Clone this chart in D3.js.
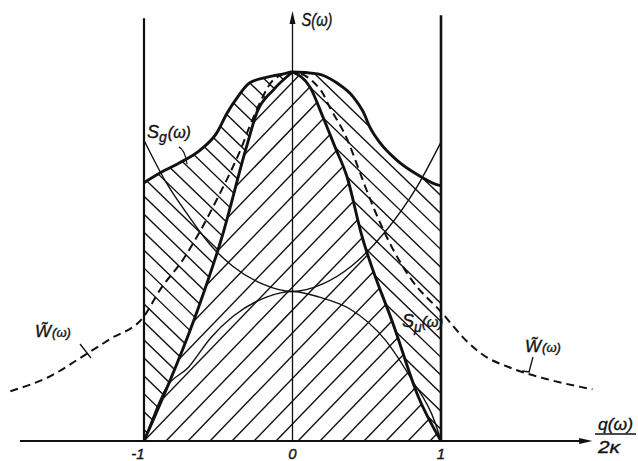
<!DOCTYPE html>
<html>
<head>
<meta charset="utf-8">
<script src="https://cdn.jsdelivr.net/npm/d3@7/dist/d3.min.js"></script>
<style>
  body { margin: 0; background: #fff; }
  svg { display: block; }
  text { font-family: 'Liberation Sans', 'DejaVu Sans', sans-serif; font-style: italic; fill: #111; stroke: #111; stroke-width: 0.35; }
</style>
</head>
<body>
<div id="chart"></div>
<script>
// x: q(w)/2k, y: S(w) normalised to the common peak = 1
const xTicks = [-1, 0, 1];
const xTickLabels = ['-1', '0', '1'];

// S_g(w), thick outer envelope
const sgX = [-1, -0.89, -0.76, -0.62, -0.51, -0.44, -0.37, -0.29, -0.17, -0.06, 0, 0.17, 0.30, 0.41, 0.48, 0.52, 0.59, 0.70, 0.84, 0.97, 1];
const sgY = [0.70, 0.727, 0.754, 0.789, 0.835, 0.889, 0.932, 0.970, 0.986, 0.995, 1, 0.995, 0.970, 0.932, 0.889, 0.851, 0.808, 0.762, 0.722, 0.695, 0.692];

// S_mu(w), thick inner curve with a cusp at the top
const smuX = [-1, -0.63, -0.48, -0.31, -0.24, -0.13, 0, 0.118, 0.205, 0.286, 0.367, 0.461, 0.69, 0.845, 1];
const smuY = [0, 0.365, 0.546, 0.797, 0.89, 0.951, 1, 0.959, 0.878, 0.797, 0.716, 0.565, 0.303, 0.122, 0];

// W~(w), dashed
const wX = [-1.9, -1.63, -1.41, -1.23, -1.0, -0.89, -0.74, -0.62, -0.49, -0.42, -0.35, -0.29, -0.22, -0.13, 0, 0.19, 0.25, 0.37, 0.43, 0.49, 0.62, 0.80, 1.0, 1.18, 1.26, 1.49, 1.71, 2.02];
const wY = [0.135, 0.176, 0.23, 0.276, 0.338, 0.411, 0.49, 0.57, 0.67, 0.727, 0.789, 0.851, 0.916, 0.978, 1, 0.951, 0.905, 0.816, 0.754, 0.689, 0.565, 0.438, 0.35, 0.268, 0.24, 0.195, 0.168, 0.14];

// thin U-shaped curve
const uX = [-1, -0.85, -0.7, -0.55, -0.4, -0.2, 0, 0.2, 0.4, 0.62, 0.84, 1];
const uY = [0.815, 0.70, 0.61, 0.53, 0.473, 0.425, 0.405, 0.425, 0.475, 0.565, 0.69, 0.81];

// thin cap-shaped curve
const capX = [-1, -0.85, -0.7, -0.55, -0.4, -0.175, 0, 0.18, 0.39, 0.62, 0.80, 0.96, 1];
const capY = [0, 0.145, 0.2, 0.28, 0.338, 0.39, 0.405, 0.39, 0.357, 0.276, 0.168, 0.05, 0];

const width = 638;
const height = 461;

const svg = d3.select('#chart')
  .append('svg')
  .attr('width', width)
  .attr('height', height)
  .attr('xmlns', 'http://www.w3.org/2000/svg');

const x = d3.scaleLinear().domain([-1, 1]).range([144, 441]);
const y = d3.scaleLinear().domain([0, 1]).range([441, 72]);

const pts = (xs, ys) => xs.map((v, i) => [v, ys[i]]);
const line = d3.line().x(d => x(d[0])).y(d => y(d[1])).curve(d3.curveMonotoneX);

const sg = pts(sgX, sgY);
const smu = pts(smuX, smuY);
const peak = smuY.indexOf(d3.max(smuY));
const smuLeft = smu.slice(0, peak + 1);
const smuRight = smu.slice(peak);
const smuPath = line(smuLeft) + line(smuRight).replace(/^M/, 'L');

const defs = svg.append('defs');
defs.append('clipPath').attr('id', 'clip-mu')
  .append('path')
  .attr('d', smuPath + 'Z');
defs.append('clipPath').attr('id', 'clip-g')
  .append('path')
  .attr('clip-rule', 'evenodd')
  .attr('d', line(sg) + `L${x(1)},${y(0)}L${x(-1)},${y(0)}Z` + smuPath + 'Z');

// hatching
const hatch = (id, step, angle, dir, x0) => {
  const g = svg.append('g').attr('clip-path', `url(#${id})`);
  const t = Math.tan(angle * Math.PI / 180);
  const h = y(0) - y(1.1);
  const offs = d3.range(-30, 30).map(k => x0 + k * step);
  g.selectAll('line')
    .data(offs)
    .join('line')
    .attr('x1', d => d)
    .attr('y1', y(0))
    .attr('x2', d => d + dir * h / t)
    .attr('y2', y(1.1))
    .attr('stroke', '#111')
    .attr('stroke-width', 1.4);
};
hatch('clip-mu', 22, 46, 1, x(-1));
hatch('clip-g', 18.6, 44, -1, 230);

const ink = '#111';

// thin curves
svg.append('path').attr('d', line(pts(uX, uY)))
  .attr('fill', 'none').attr('stroke', ink).attr('stroke-width', 1.4);
svg.append('path').attr('d', line(pts(capX, capY)))
  .attr('fill', 'none').attr('stroke', ink).attr('stroke-width', 1.4);

// walls at q/2k = +-1
svg.append('line').attr('x1', x(-1)).attr('x2', x(-1)).attr('y1', y(0)).attr('y2', y(1.146))
  .attr('stroke', ink).attr('stroke-width', 2.2);
svg.append('line').attr('x1', x(1)).attr('x2', x(1)).attr('y1', y(0)).attr('y2', y(1.154))
  .attr('stroke', ink).attr('stroke-width', 2.6);

// axes
svg.append('line').attr('x1', x(-1.835)).attr('x2', x(1.96)).attr('y1', y(0)).attr('y2', y(0))
  .attr('stroke', ink).attr('stroke-width', 2);
svg.append('path')
  .attr('d', `M${x(2.02)},${y(0)}L${x(1.93)},${y(0) - 3}L${x(1.93)},${y(0) + 3}Z`)
  .attr('fill', ink);
svg.append('line').attr('x1', x(0)).attr('x2', x(0)).attr('y1', y(0)).attr('y2', y(1.13))
  .attr('stroke', ink).attr('stroke-width', 1.3);
svg.append('path')
  .attr('d', `M${x(0)},${y(1.165)}L${x(0) - 3},${y(1.13)}L${x(0) + 3},${y(1.13)}Z`)
  .attr('fill', ink);

// dashed W~
svg.append('path').attr('d', line(pts(wX, wY)))
  .attr('fill', 'none').attr('stroke', ink).attr('stroke-width', 2)
  .attr('stroke-dasharray', '8,5');

// thick curves
svg.append('path').attr('d', line(sg))
  .attr('fill', 'none').attr('stroke', ink).attr('stroke-width', 2.9);
svg.append('path').attr('d', smuPath)
  .attr('fill', 'none').attr('stroke', ink).attr('stroke-width', 2.9)
  .attr('stroke-linejoin', 'miter');

// tick labels
svg.selectAll('.tick-label')
  .data(xTicks)
  .join('text')
  .attr('class', 'tick-label')
  .attr('x', d => x(d) - (d < 0 ? 6 : 0))
  .attr('y', 459)
  .attr('text-anchor', 'middle')
  .attr('font-size', 15)
  .text((d, i) => xTickLabels[i]);

// axis titles
const yTitle = svg.append('text').attr('x', x(0) + 9).attr('y', 26).attr('font-size', 18)
  .attr('textLength', 31).attr('lengthAdjust', 'spacingAndGlyphs');
yTitle.append('tspan').text('S(ω)');

svg.append('text').attr('x', 598).attr('y', 430).attr('font-size', 17)
  .attr('textLength', 35).attr('lengthAdjust', 'spacingAndGlyphs').text('q(ω)');
svg.append('line').attr('x1', 595).attr('x2', 636).attr('y1', 434).attr('y2', 434)
  .attr('stroke', ink).attr('stroke-width', 1.4);
svg.append('text').attr('x', 598).attr('y', 453).attr('font-size', 17)
  .attr('textLength', 22).attr('lengthAdjust', 'spacingAndGlyphs').text('2κ');

// curve labels
const sgLabel = svg.append('text').attr('x', 147).attr('y', 138).attr('font-size', 18);
sgLabel.append('tspan').text('S');
sgLabel.append('tspan').attr('font-size', 14).attr('dy', 4).text('g');
sgLabel.append('tspan').attr('font-size', 16).attr('dy', -4).attr('dx', 1).text('(ω)');
svg.append('path')
  .attr('d', `M${x(-0.765)},${y(0.797)}Q${x(-0.725)},${y(0.79)} ${x(-0.71)},${y(0.75)}`)
  .attr('fill', 'none').attr('stroke', ink).attr('stroke-width', 1.2);

const smuLabel = svg.append('text').attr('x', 402).attr('y', 327).attr('font-size', 18)
  .attr('stroke', '#fff').attr('stroke-width', 4).attr('paint-order', 'stroke');
smuLabel.append('tspan').text('S');
smuLabel.append('tspan').attr('font-size', 14).attr('dy', 5).text('μ');
smuLabel.append('tspan').attr('font-size', 15).attr('dy', -5).text('(ω)');

const wLabels = [{ lx: 35, ly: 337 }, { lx: 525, ly: 352 }];
wLabels.forEach(d => {
  const t = svg.append('text').attr('x', d.lx).attr('y', d.ly).attr('font-size', 17);
  t.append('tspan').text('W\u0303');
  t.append('tspan').attr('font-size', 13).attr('dx', 1).text('(ω)');
});
svg.append('line').attr('x1', 80).attr('y1', 344).attr('x2', 91).attr('y2', 358)
  .attr('stroke', ink).attr('stroke-width', 1.3);
svg.append('line').attr('x1', 533).attr('y1', 357).attr('x2', 529).attr('y2', 372)
  .attr('stroke', ink).attr('stroke-width', 1.3);
svg.append('line').attr('x1', 522).attr('y1', 371).attr('x2', 530).attr('y2', 372)
  .attr('stroke', ink).attr('stroke-width', 1.3);
</script>
</body>
</html>
